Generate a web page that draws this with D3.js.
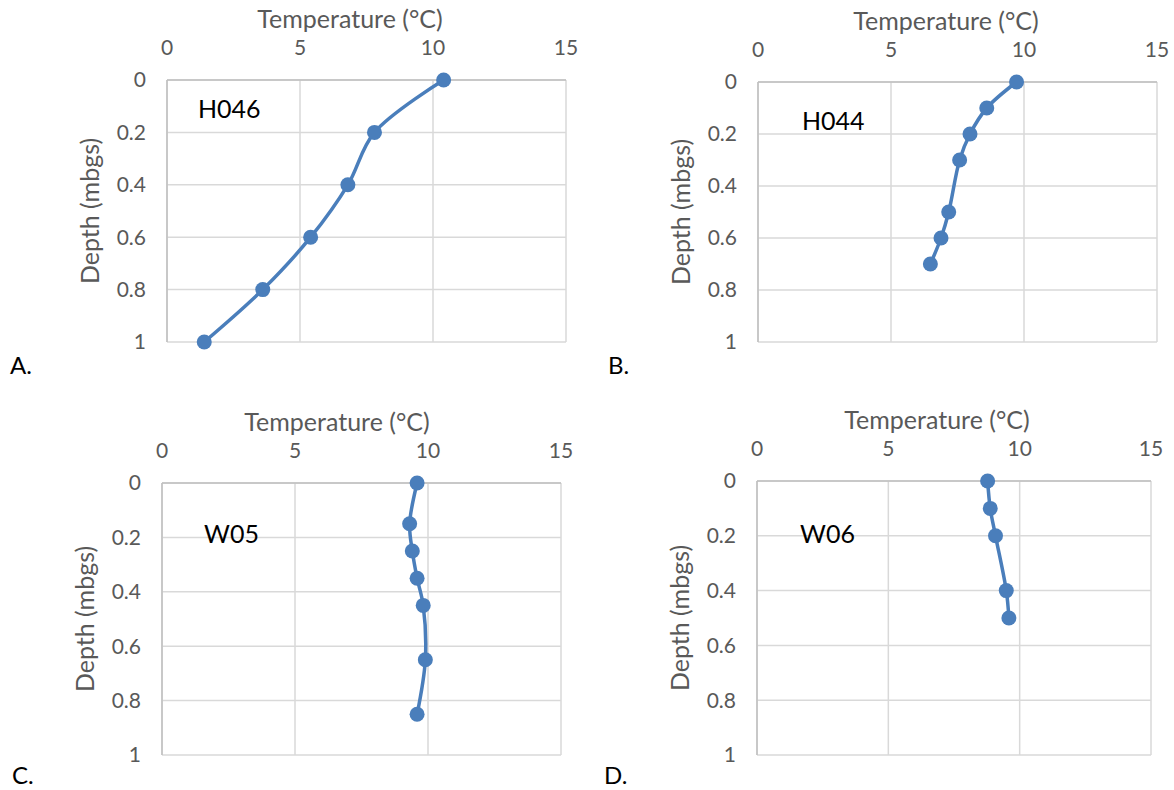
<!DOCTYPE html>
<html>
<head>
<meta charset="utf-8">
<script src="https://cdn.jsdelivr.net/npm/d3@7"></script>
<style>
  body { margin: 0; background: #fff; }
  svg { display: block; font-family: Lato, "Open Sans", sans-serif; }
</style>
</head>
<body>
<svg width="1174" height="790"></svg>
<script>
// données : température (°C) et profondeur (mbgs)
const sites = ["H046", "H044", "W05", "W06"];
const panelTags = ["A.", "B.", "C.", "D."];

const tempH046 = [10.4, 7.8, 6.8, 5.4, 3.6, 1.4];
const depthH046 = [0, 0.2, 0.4, 0.6, 0.8, 1.0];

const tempH044 = [9.72, 8.6, 7.97, 7.58, 7.17, 6.88, 6.48];
const depthH044 = [0, 0.1, 0.2, 0.3, 0.5, 0.6, 0.7];

const tempW05 = [9.59, 9.31, 9.41, 9.59, 9.82, 9.9, 9.59];
const depthW05 = [0, 0.15, 0.25, 0.35, 0.45, 0.65, 0.85];

const tempW06 = [8.78, 8.88, 9.08, 9.49, 9.59];
const depthW06 = [0, 0.1, 0.2, 0.4, 0.5];

const xTicks = [0, 5, 10, 15];
const yTicks = [0, 0.2, 0.4, 0.6, 0.8, 1];
const xTitle = "Temperature (°C)";
const yTitle = "Depth (mbgs)";

const series = [
  { t: tempH046, d: depthH046 },
  { t: tempH044, d: depthH044 },
  { t: tempW05, d: depthW05 },
  { t: tempW06, d: depthW06 },
];

// position de chaque graphe dans la page
const boxes = [
  { l: 167, t: 80, r: 566, b: 342, titleX: 350, nameX: 31, nameY: 38, tagX: 10, tagY: 374 },
  { l: 758, t: 82, r: 1157, b: 342, titleX: 946, nameX: 44, nameY: 48, tagX: 608, tagY: 374 },
  { l: 162, t: 483, r: 561, b: 755, titleX: 337, nameX: 42, nameY: 60, tagX: 12, tagY: 784 },
  { l: 757, t: 481, r: 1151, b: 755, titleX: 937, nameX: 43, nameY: 62, tagX: 604, tagY: 784 },
];

const blue = "#4a7ebb";
const grid = "#d9d9d9";
const grey = "#595959";

const svg = d3.select("svg");

sites.forEach((name, i) => {
  const box = boxes[i];
  const s = series[i];
  const pts = s.t.map((v, k) => ({ temp: v, depth: s.d[k] }));

  const x = d3.scaleLinear().domain([0, 15]).range([box.l, box.r]);
  const y = d3.scaleLinear().domain([0, 1]).range([box.t, box.b]);

  const g = svg.append("g");

  // grille
  g.selectAll(".vg").data(xTicks).enter().append("line")
    .attr("x1", d => x(d)).attr("x2", d => x(d))
    .attr("y1", box.t).attr("y2", box.b)
    .attr("stroke", grid).attr("stroke-width", 1.5);
  g.selectAll(".hg").data(yTicks).enter().append("line")
    .attr("x1", box.l).attr("x2", box.r)
    .attr("y1", d => y(d)).attr("y2", d => y(d))
    .attr("stroke", grid).attr("stroke-width", 1.5);
  // axes gauche et haut un peu plus foncés
  g.append("line").attr("x1", box.l).attr("x2", box.l).attr("y1", box.t).attr("y2", box.b)
    .attr("stroke", "#bfbfbf").attr("stroke-width", 1.5);
  g.append("line").attr("x1", box.l).attr("x2", box.r).attr("y1", box.t).attr("y2", box.t)
    .attr("stroke", "#bfbfbf").attr("stroke-width", 1.5);

  // graduations
  g.selectAll(".xt").data(xTicks).enter().append("text")
    .attr("x", d => x(d)).attr("y", box.t - 25)
    .attr("text-anchor", "middle").attr("fill", grey).attr("font-size", 21)
    .text(d => d);
  g.selectAll(".yt").data(yTicks).enter().append("text")
    .attr("x", box.l - 21).attr("y", d => y(d)).attr("dy", "0.35em")
    .attr("text-anchor", "end").attr("fill", grey).attr("font-size", 21)
    .text(d => d);

  // titres des axes
  g.append("text").attr("x", box.titleX).attr("y", box.t - 52)
    .attr("text-anchor", "middle").attr("fill", grey).attr("font-size", 25)
    .text(xTitle);
  g.append("text")
    .attr("transform", "translate(" + (box.l - 68) + "," + (box.t + box.b) / 2 + ") rotate(-90)")
    .attr("text-anchor", "middle").attr("fill", grey).attr("font-size", 25)
    .text(yTitle);

  // courbe lissée + marqueurs
  const line = d3.line()
    .x(d => x(d.temp))
    .y(d => y(d.depth))
    .curve(d3.curveCatmullRom.alpha(0.5));
  g.append("path").datum(pts)
    .attr("d", line).attr("fill", "none")
    .attr("stroke", blue).attr("stroke-width", 3.5);
  g.selectAll(".pt").data(pts).enter().append("circle")
    .attr("cx", d => x(d.temp)).attr("cy", d => y(d.depth))
    .attr("r", 7.5).attr("fill", blue);

  // nom du site et lettre du panneau
  g.append("text").attr("x", box.l + box.nameX).attr("y", box.t + box.nameY)
    .attr("fill", "#000").attr("font-size", 25)
    .text(name);
  g.append("text").attr("x", box.tagX).attr("y", box.tagY)
    .attr("fill", "#000").attr("font-size", 24)
    .text(panelTags[i]);
});
</script>
</body>
</html>
